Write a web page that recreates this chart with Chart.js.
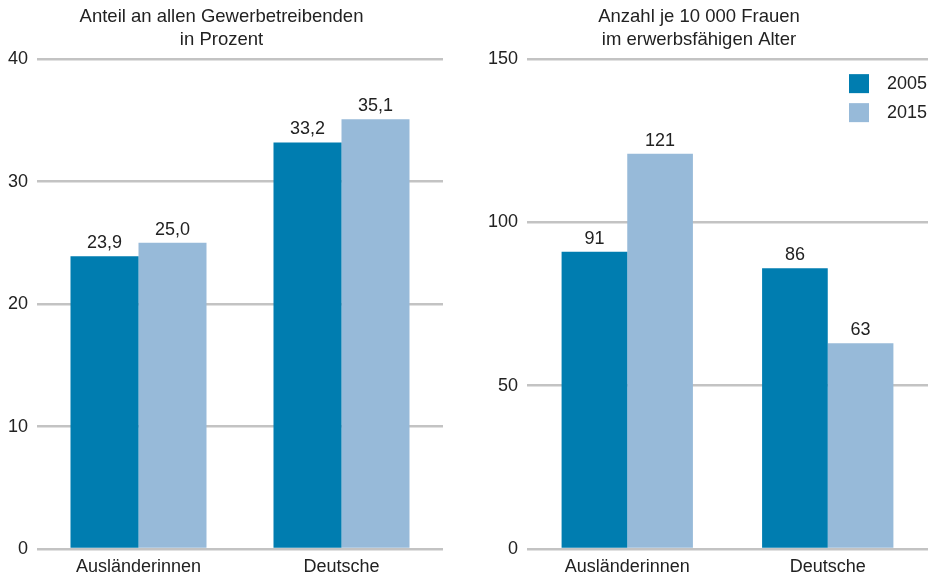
<!DOCTYPE html>
<html>
<head>
<meta charset="utf-8">
<script src="https://cdn.jsdelivr.net/npm/chart.js@4"></script>
<style>
  html, body { margin: 0; padding: 0; background: #fff; }
  .panel { position: absolute; top: 0; width: 470px; height: 574px; }
  #left { left: 0; }
  #right { left: 470px; }
</style>
</head>
<body>
<div class="panel" id="left"><canvas id="share-chart"></canvas></div>
<div class="panel" id="right"><canvas id="count-chart"></canvas></div>
<script>
// Data
const categories = ['Ausländerinnen', 'Deutsche'];
const years = ['2005', '2015'];
const share2005 = [23.9, 33.2];
const share2015 = [25.0, 35.1];
const count2005 = [91, 86];
const count2015 = [121, 63];
const shareTicks = [0, 10, 20, 30, 40];
const countTicks = [0, 50, 100, 150];
const shareTitle = ['Anteil an allen Gewerbetreibenden', 'in Prozent'];
const countTitle = ['Anzahl je 10 000 Frauen', 'im erwerbsfähigen Alter'];

const darkBlue = '#007db0';
const lightBlue = '#97bad9';
const textColor = '#222';
const fontFamily = '"Liberation Sans", Arial, Helvetica, sans-serif';

// Value labels on top of each bar
const valueLabels = {
    id: 'valueLabels',
    afterDatasetsDraw(chart, args, opts) {
        const ctx = chart.ctx;
        ctx.save();
        ctx.font = '18px ' + fontFamily;
        ctx.fillStyle = textColor;
        ctx.textAlign = 'center';
        ctx.textBaseline = 'alphabetic';
        chart.data.datasets.forEach((ds, i) => {
            chart.getDatasetMeta(i).data.forEach((bar, j) => {
                const v = ds.data[j];
                const txt = v.toLocaleString('de-DE', { minimumFractionDigits: opts.decimals, maximumFractionDigits: opts.decimals });
                ctx.fillText(txt, bar.x, bar.y - 8);
            });
        });
        ctx.restore();
    }
};

// Legend boxes in the top right corner of the plot
const cornerLegend = {
    id: 'cornerLegend',
    afterDraw(chart, args, opts) {
        if (!opts.show) return;
        const ctx = chart.ctx;
        const area = chart.chartArea;
        ctx.save();
        ctx.font = '18px ' + fontFamily;
        ctx.textBaseline = 'middle';
        ctx.textAlign = 'left';
        chart.data.datasets.forEach((ds, i) => {
            const top = area.top + 15 + i * 29;
            ctx.fillStyle = ds.backgroundColor;
            ctx.fillRect(area.right - 79, top, 20, 19);
            ctx.fillStyle = textColor;
            ctx.fillText(ds.label, area.right - 41, top + 10);
        });
        ctx.restore();
    }
};

function makeChart(id, values1, values2, ticks, title, yWidth, padRight, catPct, decimals, showLegend) {
    const ctx = document.getElementById(id).getContext('2d');
    return new Chart(ctx, {
        type: 'bar',
        data: {
            labels: categories,
            datasets: [
                { label: years[0], data: values1, backgroundColor: darkBlue, borderWidth: 0,
                  categoryPercentage: catPct, barPercentage: 1.0 },
                { label: years[1], data: values2, backgroundColor: lightBlue, borderWidth: 0,
                  categoryPercentage: catPct, barPercentage: 1.0 }
            ]
        },
        options: {
            responsive: true,
            maintainAspectRatio: false,
            animation: false,
            layout: { padding: { left: 0, right: padRight, top: 0, bottom: 0 } },
            plugins: {
                legend: { display: false },
                tooltip: { enabled: false },
                title: {
                    display: true,
                    text: title,
                    color: textColor,
                    font: { family: fontFamily, size: 18.5, weight: 'normal', lineHeight: 1.22 },
                    padding: { top: 6, bottom: 8 }
                },
                valueLabels: { decimals: decimals },
                cornerLegend: { show: showLegend }
            },
            scales: {
                x: {
                    grid: { display: false, drawTicks: false },
                    border: { display: false },
                    ticks: { color: textColor, font: { family: fontFamily, size: 18 }, padding: 7 },
                    afterFit(scale) { scale.height = 25; }
                },
                y: {
                    min: ticks[0],
                    max: ticks[ticks.length - 1],
                    ticks: {
                        stepSize: ticks[1] - ticks[0],
                        color: textColor,
                        font: { family: fontFamily, size: 18 },
                        padding: 9
                    },
                    grid: { color: '#c3c3c3', lineWidth: 2.5, drawTicks: false },
                    border: { display: false },
                    afterFit(scale) { scale.width = yWidth; }
                }
            }
        },
        plugins: [valueLabels, cornerLegend]
    });
}

makeChart('share-chart', share2005, share2015, shareTicks, shareTitle, 37, 27, 0.67, 1, false);
makeChart('count-chart', count2005, count2015, countTicks, countTitle, 57, 12, 0.655, 0, true);
</script>
</body>
</html>
